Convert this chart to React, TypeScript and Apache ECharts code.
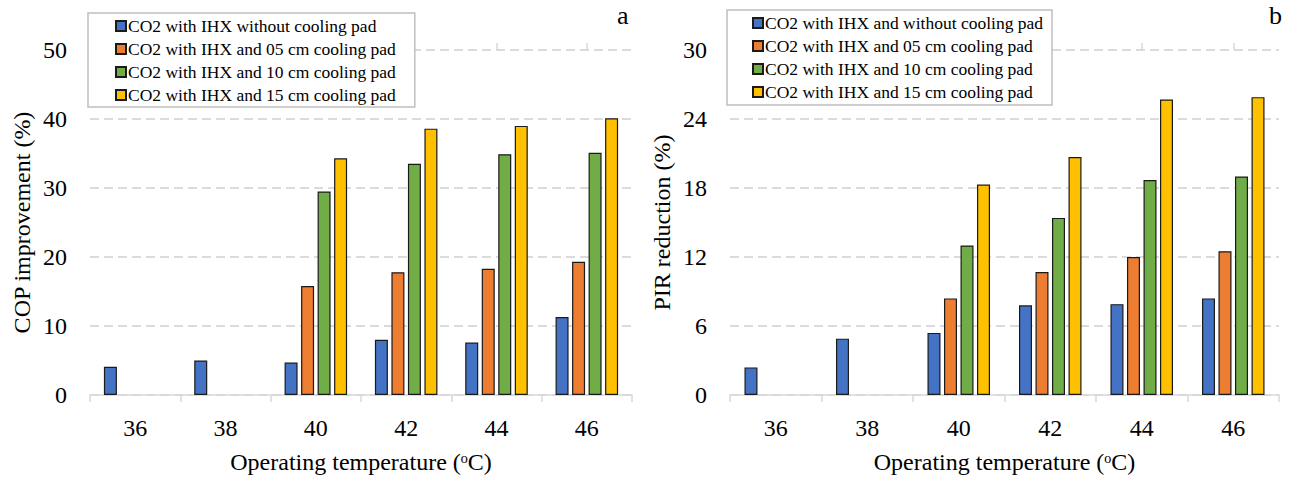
import React, { useEffect, useRef } from "react";
import * as echarts from "echarts";

// Operating temperatures (°C)
const temps = ["36", "38", "40", "42", "44", "46"];

// Panel a: COP improvement (%)
const copNoPad = [4.1, 5.0, 4.7, 8.0, 7.6, 11.3];
const cop05 = [null, null, 15.8, 17.8, 18.3, 19.3];
const cop10 = [null, null, 29.5, 33.5, 34.9, 35.1];
const cop15 = [null, null, 34.3, 38.6, 39.0, 40.1];

// Panel b: PIR reduction (%)
const pirNoPad = [2.4, 4.9, 5.4, 7.8, 7.9, 8.4];
const pir05 = [null, null, 8.4, 10.7, 12.0, 12.5];
const pir10 = [null, null, 13.0, 15.4, 18.7, 19.0];
const pir15 = [null, null, 18.3, 20.7, 25.7, 25.9];

const namesA = [
  "CO2 with IHX without cooling pad",
  "CO2 with IHX and 05 cm cooling pad",
  "CO2 with IHX and 10 cm cooling pad",
  "CO2 with IHX and 15 cm cooling pad",
];
const namesB = [
  "CO2 with IHX and without cooling pad",
  "CO2 with IHX and 05 cm cooling pad",
  "CO2 with IHX and 10 cm cooling pad",
  "CO2 with IHX and 15 cm cooling pad",
];

const colors = ["#4472C4", "#ED7D31", "#70AD47", "#FFC000"];
const FONT = "Liberation Serif";
const AXIS_GREY = "#d9d9d9";

export default function App() {
  const ref = useRef<HTMLDivElement>(null);

  useEffect(() => {
    document.body.style.margin = "0";
    if (!ref.current) return;
    const chart = echarts.init(ref.current, undefined, { renderer: "svg" });

    const grids = [
      { left: 90, right: 664, top: 50, bottom: 86 },
      { left: 730, right: 17, top: 50, bottom: 86 },
    ];

    const tickStyle = { show: true, length: 7, lineStyle: { color: AXIS_GREY, width: 1.5 } };

    const mainX = (gridIndex: number) => ({
      type: "category",
      gridIndex,
      data: temps,
      axisLine: { lineStyle: { color: AXIS_GREY, width: 1.5 } },
      axisTick: { ...tickStyle, alignWithLabel: false },
      axisLabel: { color: "#000", fontFamily: FONT, fontSize: 24, margin: 21 },
      name: "Operating temperature (\u1d52C)",
      nameLocation: "middle",
      nameGap: 55,
      nameTextStyle: { color: "#000", fontFamily: FONT, fontSize: 24 },
    });

    // Extra ticks at the centre of each category
    const centreTicks = (gridIndex: number) => ({
      type: "category",
      gridIndex,
      data: temps,
      axisLine: { show: false },
      axisTick: { ...tickStyle, alignWithLabel: true },
      axisLabel: { show: false },
      splitLine: { show: false },
    });

    const yAxis = (gridIndex: number, max: number, interval: number, name: string) => ({
      type: "value",
      gridIndex,
      min: 0,
      max,
      interval,
      axisLine: { show: false },
      axisTick: { show: false },
      axisLabel: { color: "#000", fontFamily: FONT, fontSize: 24, margin: 23 },
      splitLine: { lineStyle: { color: "#d0d0d0", width: 1.5, type: [9, 5] } },
      name,
      nameLocation: "middle",
      nameGap: 56,
      nameTextStyle: { color: "#000", fontFamily: FONT, fontSize: 24 },
    });

    const bar = (name: string, data: (number | null)[], i: number, axis: number) => ({
      type: "bar",
      name,
      data,
      xAxisIndex: axis,
      yAxisIndex: axis,
      barWidth: 13,
      barGap: "27%",
      itemStyle: { color: colors[i], borderColor: "#1a1a1a", borderWidth: 1.2 },
    });

    const legend = (names: string[], left: number, top: number, padding: number[]) => ({
      data: names,
      orient: "vertical",
      left,
      top,
      padding,
      itemGap: 5,
      itemWidth: 10,
      itemHeight: 10,
      icon: "rect",
      borderColor: "#bfbfbf",
      borderWidth: 1.5,
      backgroundColor: "#fff",
      selectedMode: false,
      textStyle: { color: "#000", fontFamily: FONT, fontSize: 17.5, lineHeight: 16, padding: [0, 0, 0, -3] },
    });

    chart.setOption({
      animation: false,
      backgroundColor: "#fff",
      grid: grids,
      xAxis: [mainX(0), mainX(1), centreTicks(0), centreTicks(1)],
      yAxis: [
        yAxis(0, 50, 10, "COP improvement (%)"),
        yAxis(1, 30, 6, "PIR reduction (%)"),
      ],
      legend: [
        legend(namesA, 88, 13, [4, 19, 3, 27]),
        legend(namesB, 727, 10, [4, 9, 4, 25]),
      ],
      series: [
        bar(namesA[0], copNoPad, 0, 0),
        bar(namesA[1], cop05, 1, 0),
        bar(namesA[2], cop10, 2, 0),
        bar(namesA[3], cop15, 3, 0),
        bar(namesB[0], pirNoPad, 0, 1),
        bar(namesB[1], pir05, 1, 1),
        bar(namesB[2], pir10, 2, 1),
        bar(namesB[3], pir15, 3, 1),
      ],
      graphic: [
        {
          type: "text",
          left: 617,
          top: 2,
          style: { text: "a", fill: "#000", font: `26px ${FONT}` },
        },
        {
          type: "text",
          left: 1269,
          top: 2,
          style: { text: "b", fill: "#000", font: `26px ${FONT}` },
        },
      ],
    });

    return () => chart.dispose();
  }, []);

  return <div ref={ref} style={{ width: 1296, height: 481 }} />;
}
